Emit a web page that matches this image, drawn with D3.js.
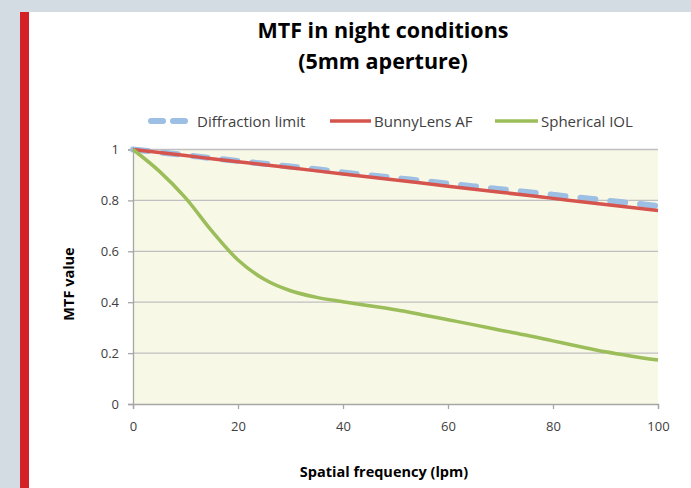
<!DOCTYPE html>
<html><head><meta charset="utf-8">
<script src="https://cdn.jsdelivr.net/npm/d3@7"></script>
<style>body{margin:0;padding:0;background:#d3dbe3;overflow:hidden}</style>
</head><body>
<svg id="c" width="691" height="488"></svg>
<script>
const freq = [0,5,10,15,20,25,30,35,40,45,50,55,60,65,70,75,80,85,90,95,100];
const diffraction = [1,0.989,0.978,0.966,0.955,0.944,0.933,0.922,0.91,0.899,0.888,0.877,0.866,0.855,0.844,0.833,0.822,0.811,0.8,0.789,0.778];
const bunny = [1,0.988,0.976,0.964,0.952,0.94,0.928,0.916,0.904,0.892,0.88,0.868,0.856,0.844,0.832,0.82,0.808,0.796,0.784,0.772,0.76];
const spherical = [1,0.915,0.81,0.68,0.566,0.49,0.445,0.419,0.402,0.386,0.37,0.351,0.331,0.311,0.29,0.27,0.248,0.226,0.205,0.188,0.173];
const xTicks = [0,20,40,60,80,100];
const yTicks = [0,0.2,0.4,0.6,0.8,1];
const seriesNames = ["Diffraction limit","BunnyLens AF","Spherical IOL"];

const svg = d3.select("#c");
svg.append("rect").attr("x",0).attr("y",0).attr("width",691).attr("height",488).attr("fill","#d3dbe3");
svg.append("rect").attr("x",20).attr("y",12).attr("width",9).attr("height",476).attr("fill","#d42027");
svg.append("rect").attr("x",29).attr("y",12).attr("width",662).attr("height",476).attr("fill","#ffffff");

const font = "'Open Sans', sans-serif";
const x = d3.scaleLinear().domain([0,100]).range([133,658]);
const y = d3.scaleLinear().domain([0,1]).range([404,149.5]);

svg.append("rect").attr("x",x(0)).attr("y",y(1)).attr("width",x(100)-x(0)).attr("height",y(0)-y(1)).attr("fill","#f8f8e6");

// gridlines
svg.append("g").selectAll("line").data(yTicks.filter(d=>d>0)).join("line")
  .attr("x1",x(0)).attr("x2",x(100)).attr("y1",d=>y(d)).attr("y2",d=>y(d))
  .attr("stroke","#bfbfbf").attr("stroke-width",1.3);

// axes
const xAxis = svg.append("g").attr("transform",`translate(0,${y(0)})`)
  .call(d3.axisBottom(x).tickValues(xTicks).tickSize(5).tickPadding(13).tickFormat(d3.format("d")));
const yAxis = svg.append("g").attr("transform",`translate(${x(0)},0)`)
  .call(d3.axisLeft(y).tickValues(yTicks).tickSize(5).tickPadding(9).tickFormat(d=>d===0?"0":d===1?"1":d3.format(".1f")(d)));
[xAxis,yAxis].forEach(a=>{
  a.select(".domain").attr("stroke","#a6a6a6").attr("stroke-width",1.3);
  a.selectAll(".tick line").attr("stroke","#a6a6a6").attr("stroke-width",1.3);
  a.selectAll("text").attr("font-family",font).attr("font-size",13).attr("fill","#404040");
});

const line = d3.line().x((d,i)=>x(freq[i])).y(d=>y(d)).curve(d3.curveCatmullRom.alpha(0.5));
svg.append("path").datum(diffraction).attr("d",line).attr("fill","none")
  .attr("stroke","#9dbfe3").attr("stroke-width",6).attr("stroke-dasharray","15,15").attr("stroke-linecap","round");
svg.append("path").datum(bunny).attr("d",line).attr("fill","none")
  .attr("stroke","#d6544e").attr("stroke-width",3.5);
svg.append("path").datum(spherical).attr("d",line).attr("fill","none")
  .attr("stroke","#9bbd5a").attr("stroke-width",3.5);

// titles
svg.append("text").attr("x",383).attr("y",38).attr("text-anchor","middle")
  .attr("font-family",font).attr("font-weight","bold").attr("font-size",21.5).attr("fill","#000").text("MTF in night conditions");
svg.append("text").attr("x",383).attr("y",69).attr("text-anchor","middle")
  .attr("font-family",font).attr("font-weight","bold").attr("font-size",21.5).attr("fill","#000").text("(5mm aperture)");
svg.append("text").attr("x",384).attr("y",477).attr("text-anchor","middle")
  .attr("font-family",font).attr("font-weight","bold").attr("font-size",14.5).attr("fill","#000").text("Spatial frequency (lpm)");
svg.append("text").attr("transform","translate(74,284) rotate(-90)").attr("text-anchor","middle")
  .attr("font-family",font).attr("font-weight","bold").attr("font-size",14.5).attr("fill","#000").text("MTF value");

// legend
const leg = [
  {name:seriesNames[0], x1:151, x2:193, tx:197, stroke:"#9dbfe3", w:6, dash:"12,10", cap:"round"},
  {name:seriesNames[1], x1:330, x2:371, tx:374, stroke:"#d6544e", w:3.5, dash:null, cap:"butt"},
  {name:seriesNames[2], x1:495, x2:538, tx:541, stroke:"#9bbd5a", w:3.5, dash:null, cap:"butt"}
];
const lg = svg.append("g");
leg.forEach(l=>{
  lg.append("line").attr("x1",l.x1).attr("x2",l.x2).attr("y1",121).attr("y2",121)
    .attr("stroke",l.stroke).attr("stroke-width",l.w).attr("stroke-dasharray",l.dash).attr("stroke-linecap",l.cap);
  lg.append("text").attr("x",l.tx).attr("y",126.5).attr("font-family",font).attr("font-size",15).attr("fill","#404040").text(l.name);
});
</script>
</body></html>
